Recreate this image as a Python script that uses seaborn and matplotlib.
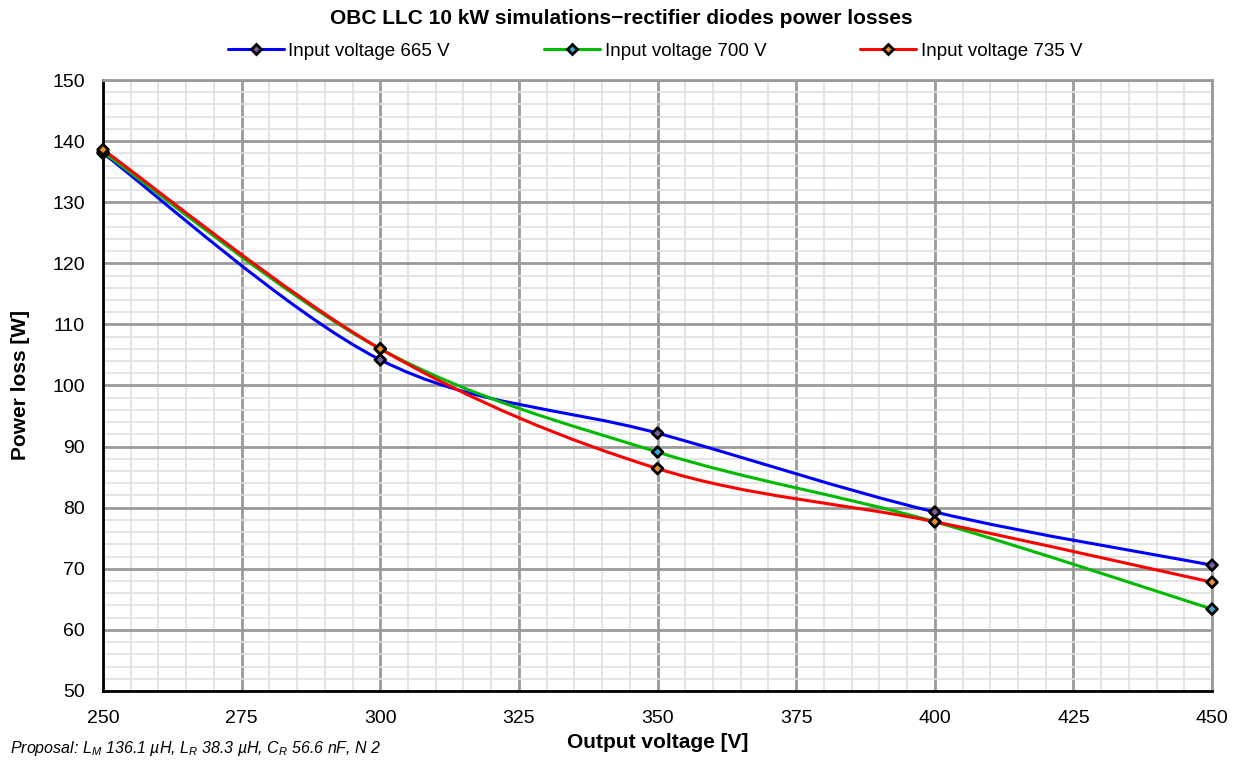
import numpy as np
import pandas as pd
import matplotlib
matplotlib.use("Agg")
import matplotlib.pyplot as plt
from matplotlib.path import Path
from matplotlib.patches import PathPatch
from matplotlib.lines import Line2D
from matplotlib.ticker import MultipleLocator
import seaborn as sns

output_voltage = [250, 300, 350, 400, 450]
loss_665 = [138.0, 104.2, 92.2, 79.3, 70.6]
loss_700 = [138.2, 106.0, 89.1, 77.7, 63.4]
loss_735 = [138.6, 106.0, 86.4, 77.7, 67.8]
series_names = ["Input voltage 665 V", "Input voltage 700 V", "Input voltage 735 V"]
line_colors = ["#0000ff", "#00bb00", "#ff0000"]
marker_fills = ["#7a5c9e", "#33aacc", "#e8902a"]

sns.set_theme(style="white")
plt.rcParams["font.family"] = ["Liberation Sans", "DejaVu Sans"]
plt.rcParams["text.color"] = "black"
plt.rcParams["axes.labelcolor"] = "black"
plt.rcParams["mathtext.fontset"] = "custom"
plt.rcParams["mathtext.rm"] = "Liberation Sans:italic"
plt.rcParams["mathtext.it"] = "Liberation Sans:italic"

df = pd.DataFrame({
    "x": output_voltage * 3,
    "y": loss_665 + loss_700 + loss_735,
    "series": sum([[n] * len(output_voltage) for n in series_names], []),
})

fig = plt.figure(figsize=(12.43, 7.62), dpi=100)
ax = fig.add_axes([0.0829, 0.0932, 0.8922, 0.8018])


def smooth_path(xs, ys):
    pts = np.column_stack([xs, ys]).astype(float)
    n = len(pts)
    verts = [pts[0]]
    codes = [Path.MOVETO]
    for i in range(n - 1):
        p0 = pts[i - 1] if i > 0 else pts[i]
        p1 = pts[i]
        p2 = pts[i + 1]
        p3 = pts[i + 2] if i + 2 < n else pts[i + 1]
        c1 = p1 + (p2 - p0) / 6.0
        c2 = p2 - (p3 - p1) / 6.0
        verts += [c1, c2, p2]
        codes += [Path.CURVE4] * 3
    return Path(verts, codes)


for name, col in zip(series_names, line_colors):
    sub = df[df.series == name]
    patch = PathPatch(smooth_path(sub.x.values, sub.y.values), facecolor="none",
                      edgecolor=col, lw=2.2, zorder=3)
    ax.add_patch(patch)

sns.scatterplot(data=df, x="x", y="y", hue="series", palette=marker_fills,
                marker="D", s=30, edgecolor="black", linewidth=2.0,
                ax=ax, legend=False, zorder=4, clip_on=False)

ax.set_xlim(250, 450)
ax.set_ylim(50, 150)
ax.xaxis.set_major_locator(MultipleLocator(25))
ax.xaxis.set_minor_locator(MultipleLocator(5))
ax.yaxis.set_major_locator(MultipleLocator(10))
ax.yaxis.set_minor_locator(MultipleLocator(2))
ax.grid(which="major", color="#9a9a9a", lw=2, zorder=1)
ax.grid(which="minor", color="#e0e0e0", lw=1.2, zorder=0)
ax.set_axisbelow(True)
for s in ["top", "right"]:
    ax.spines[s].set_color("#9a9a9a")
    ax.spines[s].set_linewidth(2)
for s in ["left", "bottom"]:
    ax.spines[s].set_color("black")
    ax.spines[s].set_linewidth(2)
ax.tick_params(axis="both", which="both", length=0, labelsize=14, colors="black")
ax.tick_params(axis="y", pad=13)
ax.tick_params(axis="x", pad=14)

ax.set_xlabel("Output voltage [V]", fontsize=15, fontweight="bold", labelpad=4)
ax.set_ylabel("Power loss [W]", fontsize=15, fontweight="bold", labelpad=16)
fig.suptitle("OBC LLC 10 kW simulations\u2212rectifier diodes power losses",
             fontsize=15, fontweight="bold", y=0.976, va="center")

handles = [Line2D([0], [0], color=c, lw=2.2, marker="D", markersize=5,
                  markerfacecolor=f, markeredgecolor="black", markeredgewidth=2)
           for c, f in zip(line_colors, marker_fills)]
fig.legend(handles, series_names, loc="center", bbox_to_anchor=(0.527, 0.933),
           ncol=3, frameon=False, fontsize=13.5, handlelength=3, columnspacing=5,
           handletextpad=0.25)

fig.text(0.008, 0.018,
         r"Proposal: L$_M$ 136.1 µH, L$_R$ 38.3 µH, C$_R$ 56.6 nF, N 2",
         fontsize=11.5, style="italic", ha="left", va="center")

fig.savefig("out.png", dpi=100)
